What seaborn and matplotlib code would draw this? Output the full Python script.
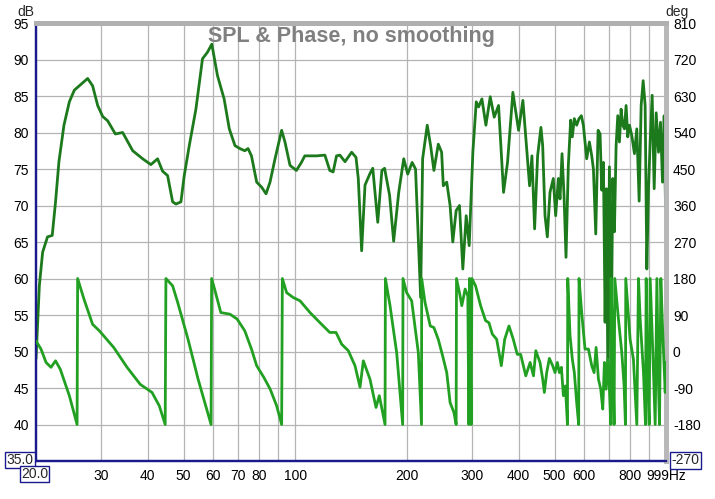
import numpy as np
import pandas as pd
import matplotlib
matplotlib.use("Agg")
import matplotlib.pyplot as plt
import seaborn as sns

# ---------------- data ----------------
spl_freq = [20.0, 20.42, 20.84, 21.48, 22.12, 22.58, 23.06, 23.79, 24.6, 25.37,
            26.17, 27.56, 28.42, 29.33, 30.25, 31.21, 32.73, 34.25, 36.46, 38.78,
            40.81, 42.54, 43.88, 45.27, 46.71, 47.68, 49.18, 50.2, 51.79, 53.97,
            56.22, 57.99, 59.57, 61.7, 64.3, 66.4,
            68.79, 70.9, 73.1, 74.6, 76.2, 78.7, 81.2, 83.4, 85.5, 88.2,
            91.9, 93.8, 96.8, 100.7, 103.9, 106.1, 109.5, 114.1, 120.2, 123.9,
            126.5, 129.2, 131.9, 136.2, 141.9, 145.8, 147.9, 151.0, 154.2, 159.1,
            161.8, 166.9, 171.2, 174.1, 179.6, 184.2, 190.1, 196.1, 201.0, 206.6,
            211.0, 217.8,
            220.5, 226.9, 231.7, 236.5, 243.0, 248.1, 250.7, 256.1, 261.5, 265.9,
            271.5, 277.2, 283.0, 289.0, 294.4, 301.2, 307.6, 312.1, 318.6, 326.6,
            335.5, 343.9, 353.3, 364.4, 373.5, 386.1, 400.0, 410.9, 428.3, 434.6,
            441.9, 450.2, 459.6,
            464.6, 471.4, 478.2, 486.2, 496.3, 503.6, 512.1, 517.4, 523.9, 530.4,
            537.0, 544.8, 552.8, 558.5, 565.5, 573.8, 582.2, 590.7, 598.1, 610.6,
            620.9, 630.0, 636.6, 645.9, 655.3, 663.5, 670.4, 677.4, 684.5, 690.2,
            695.9, 703.1, 710.5, 717.9, 725.3, 732.9, 740.5, 748.2, 756.0, 763.8,
            771.8, 779.8, 787.9, 796.1, 807.8, 821.3, 833.4, 845.6, 856.2, 866.9,
            877.7, 886.9, 896.1, 905.5, 916.8, 928.3, 939.9, 953.6, 965.5, 977.5,
            987.7, 995.9]
spl_db = [49, 59, 63.6, 65.7, 65.9, 70.5, 76, 81, 84.2, 85.8,
          86.4, 87.4, 86.4, 83.7, 82.2, 81.6, 79.8, 80, 77.5, 76.4,
          75.6, 76.4, 74.7, 74.1, 70.5, 70.2, 70.5, 74.1, 78.2, 83.2,
          90.1, 91, 92.1, 87.8, 84.6, 80.5,
          78.2, 77.8, 77.5, 77.8, 76.8, 73.2, 72.5, 71.6, 73.2, 76.4,
          80.3, 78.7, 75.5, 74.8, 75.9, 76.8, 76.8, 76.8, 76.9, 74.8,
          74.6, 76.8, 76.9, 76.0, 77.3, 76.6, 73.7, 63.8, 72.8, 74.4,
          75.1, 67.7, 74.8, 75.1, 71.4, 65.1, 71.8, 76.4, 74.3, 75.9,
          75, 57.4,
          76.4, 81, 78.2, 74.8, 78.4, 77.3, 72.7, 73.2, 70, 65,
          69.3, 70, 61.3, 68.6, 64.5, 77.3, 84.2, 83.5, 84.6, 81,
          84.9, 82.1, 83.7, 71.8, 75.9, 85.5, 80.3, 84.4, 72.7, 76.8,
          66.8, 76.8, 80.7,
          78.2, 68.6, 65.7, 71.8, 73.7, 68.6, 73.7, 70.9, 77.1, 71.4,
          62.9, 75.5, 81.7, 79.4, 81.9, 81, 81.9, 82.3, 81, 76.4,
          78.7, 76.8, 75, 66.1, 80.3, 79.8, 72.1, 75.9, 54.0, 72.3,
          48.0, 75.3, 49.0, 73.7, 66.4, 78.2, 82.3, 78.7, 83.2, 81,
          80.5, 83.7, 79.4, 81, 79.6, 77.1, 80.5, 70.6, 83.7, 87.1,
          83.7, 61.3, 72.3, 78.7, 85.1, 72.3, 82.7, 77.3, 81.4, 73.2,
          82.3, 69.8]

phase_freq = [20.0, 20.63, 21.29, 21.95, 22.58, 23.26, 24.6, 25.81, 25.9,
              26.94, 28.42, 29.64, 32.4, 35.2, 38.2, 41.1, 43.0, 44.6, 44.8,
              46.7, 48.2, 51.4, 54.7, 59.3, 59.5, 60.6, 63.0, 66.69,
              69.7, 73.1, 76.2, 78.7, 82.3, 85.6, 89.1, 91.9, 92.3,
              94.8, 98.8, 103.0, 109.6, 116.6, 123.9, 128.8, 133.4, 139.0, 144.9,
              149.5, 152.6, 159.0, 165.1, 168.5, 174.6, 175.0, 180.1, 187.7, 194.8,
              195.2, 199.7, 206.0, 214.7, 219.0,
              219.2, 223.8, 231.2, 236.5, 243.0, 249.7, 256.1, 261.5, 267.7, 271.5,
              272.1, 277.2, 281.2, 287.1, 291.9, 293.8, 295.0, 298.1, 299.3, 306.3,
              316.0, 326.0, 332.8, 339.8, 349.2, 359.4, 367.0, 376.9, 387.1, 396.8,
              405.2, 418.3, 429.8, 438.8, 445.2,
              457.0, 464.6, 469.5, 476.3, 484.3, 494.3, 501.6, 508.9, 515.3, 521.8,
              528.4, 535.0, 541.8, 542.9, 550.6, 558.5, 565.5, 573.8, 581.0, 582.2,
              591.9, 604.3, 617.2, 630.0, 639.3, 647.3, 656.7, 666.3, 674.6, 681.6,
              688.8, 695.9, 703.1, 709.0, 710.5, 717.9, 723.9, 726.9, 743.6, 759.1,
              770.2, 776.6, 778.2, 799.4, 816.0, 833.4, 842.1, 850.9, 868.7, 879.6,
              883.3, 890.6, 900.0, 905.5, 920.6, 934.2, 944.0, 953.6, 959.6, 967.5,
              979.7, 994.0, 999.0]
phase_deg = [26, 6, -27, -39, -23, -44, -109, -180, 180,
             129, 67, 51, 10, -39, -81, -101, -134, -180, 180,
             162, 121, 30, -68, -180, 180, 154, 96, 92,
             80, 51, 6, -35, -64, -93, -134, -180, 180,
             145, 133, 125, 96, 71, 47, 47, 18, 2, -35,
             -88, -23, -68, -138, -109, -180, 180, 113, -3, -180,
             180, 145, 125, -3, -180,
             180, 121, 63, 59, 30, -11, -52, -126, -150, -180,
             180, 145, 113, 154, 137, -180, 180, -180, 180, 162,
             113, 76, 71, 43, 30, -35, 30, 63, 30, -7,
             -7, -60, -27, -60, 2,
             -27, -68, -101, -52, -17, -35, -52, -27, -52, -39,
             -109, -85, -180, 180, 39, -19, -52, -126, -180, 180,
             96, 6, 6, -35, -52, 10, -68, -93, -142, -27,
             -93, -19, -93, -180, 180, -2, -180, 180, 80, -2,
             -85, -180, 180, 30, -19, -180, 180, 80, -52, -180,
             180, -44, -180, 180, -2, -180, 180, -85, -180, 180,
             39, -101, -27]

db_ticks = [40, 45, 50, 55, 60, 65, 70, 75, 80, 85, 90, 95]
deg_ticks = [-180, -90, 0, 90, 180, 270, 360, 450, 540, 630, 720, 810]
x_grid = [30, 40, 50, 60, 70, 80, 90, 100, 200, 300, 400, 500, 600, 700, 800, 900]
x_labels = {30: "30", 40: "40", 50: "50", 60: "60", 70: "70", 80: "80", 100: "100",
            200: "200", 300: "300", 400: "400", 500: "500", 600: "600", 800: "800",
            999: "999Hz"}
title = "SPL & Phase, no smoothing"

spl_df = pd.DataFrame({"freq": spl_freq, "spl": spl_db})
ph_df = pd.DataFrame({"freq": phase_freq, "phase": phase_deg})

# ---------------- style ----------------
sns.set_theme(style="white")
plt.rcParams["font.family"] = ["Liberation Sans", "DejaVu Sans"]

W, H = 715, 499
fig = plt.figure(figsize=(W / 100, H / 100), dpi=100)
L, R, T, B = 36, 666, 23, 461
ax = fig.add_axes([L / W, 1 - B / H, (R - L) / W, (B - T) / H])
ax.set_facecolor("white")

ax.set_xscale("log")
ax.set_xlim(20, 999)
ax.set_ylim(35, 95)

# grid
grid_c = "#b4b4b4"
for v in db_ticks:
    ax.axhline(v, color=grid_c, lw=0.9, zorder=0)
for v in x_grid:
    ax.axvline(v, color=grid_c, lw=0.9, zorder=0)

sns.lineplot(data=spl_df, x="freq", y="spl", ax=ax, sort=False, estimator=None,
             color="#1c7a1c", lw=2.0, zorder=3)

ax2 = ax.twinx()
ax2.set_ylim(-270, 810)
sns.lineplot(data=ph_df, x="freq", y="phase", ax=ax2, sort=False, estimator=None,
             color="#22a022", lw=2.0, zorder=3)
ax2.set_xscale("log")
ax2.set_xlim(20, 999)

# ticks
ax.set_yticks(db_ticks)
ax.set_yticklabels([str(v) for v in db_ticks])
ax2.set_yticks(deg_ticks)
ax2.set_yticklabels([str(v) for v in deg_ticks])
ax.set_xticks(list(x_labels.keys()))
ax.set_xticklabels(list(x_labels.values()))
ax.xaxis.set_minor_locator(matplotlib.ticker.NullLocator())
ax2.xaxis.set_minor_locator(matplotlib.ticker.NullLocator())
for a in (ax, ax2):
    a.tick_params(axis="both", length=0, labelsize=10, colors="black", pad=5)
    a.set_xlabel("")
    a.set_ylabel("")
ax.tick_params(axis="x", pad=6)

# spines
for a in (ax, ax2):
    a.spines["left"].set_color("#1a1a8c")
    a.spines["left"].set_linewidth(1.6)
    a.spines["bottom"].set_color("#1a1a8c")
    a.spines["bottom"].set_linewidth(1.6)
    a.spines["top"].set_color("#b0b0b0")
    a.spines["top"].set_linewidth(3.5)
    a.spines["right"].set_color("#b8b8b8")
    a.spines["right"].set_linewidth(3.5)

# title
ax.text(0.5, (B - 26) / (B - T), title, transform=ax.transAxes, ha="center", va="top",
        fontsize=15.5, fontweight="bold", color="#808080", zorder=5)

# unit labels and boxed limits
fig.text(26 / W, 1 - 12 / H, "dB", ha="center", va="center", fontsize=10)
fig.text(677 / W, 1 - 12 / H, "deg", ha="center", va="center", fontsize=10)
box = dict(boxstyle="square,pad=0.08", fc="white", ec="#1a1a8c", lw=1.0)
fig.text(20 / W, 1 - 460 / H, "35.0", ha="center", va="center", fontsize=10, bbox=box,
         zorder=6)
fig.text(34.5 / W, 1 - 474 / H, "20.0", ha="center", va="center", fontsize=10, bbox=box,
         zorder=7)
fig.text(685.5 / W, 1 - 460.5 / H, "-270", ha="center", va="center", fontsize=10, bbox=box)

fig.savefig("out.png", dpi=100, facecolor="white")
